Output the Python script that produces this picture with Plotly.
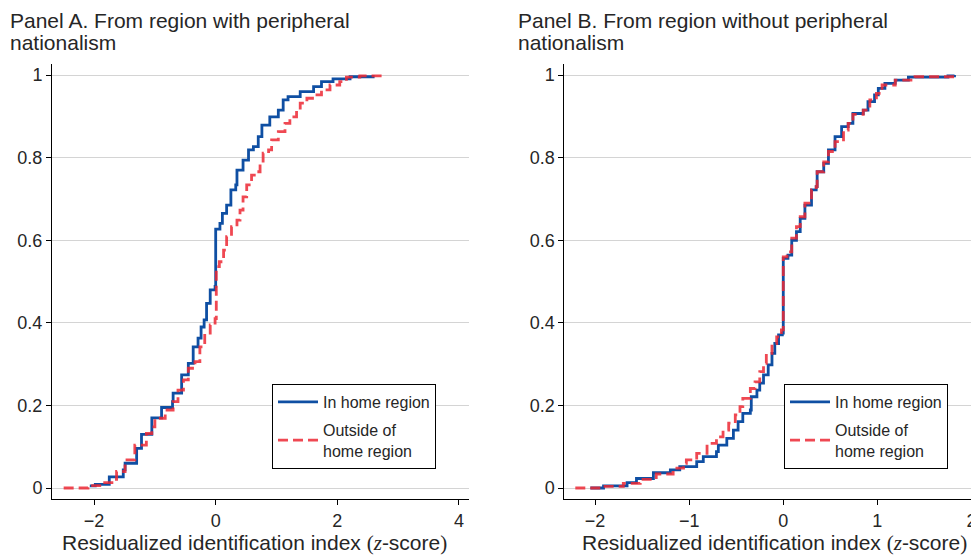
import plotly.graph_objects as go

# ---------------- data ----------------
# Panel A: from region with peripheral nationalism
a_home_x = [-2.07, -1.98, -1.75, -1.52, -1.49, -1.30, -1.22, -1.05, -0.89, -0.71, -0.70,
            -0.56, -0.45, -0.37, -0.29, -0.24, -0.19, -0.15, -0.09, -0.01, 0.00, 0.07,
            0.11, 0.18, 0.25, 0.33, 0.35, 0.45, 0.54, 0.62, 0.70, 0.76, 0.89, 1.03,
            1.11, 1.19, 1.39, 1.61, 1.74, 1.93, 2.21, 2.59]
a_home_y = [0.005, 0.009, 0.027, 0.044, 0.060, 0.096, 0.130, 0.170, 0.195, 0.209, 0.230,
            0.274, 0.302, 0.342, 0.363, 0.390, 0.407, 0.447, 0.480, 0.488, 0.627, 0.641,
            0.665, 0.685, 0.722, 0.734, 0.770, 0.794, 0.819, 0.827, 0.851, 0.879, 0.899, 0.915,
            0.940, 0.948, 0.960, 0.972, 0.984, 0.991, 0.996, 1.000]

a_out_x = [-2.50, -2.10, -1.88, -1.68, -1.63, -1.49, -1.33, -1.14, -1.05, -1.00, -0.83,
           -0.70, -0.62, -0.53, -0.45, -0.34, -0.26, -0.18, -0.09, -0.01, 0.01, 0.06,
           0.13, 0.18, 0.26, 0.35, 0.40, 0.45, 0.51, 0.59, 0.67, 0.73, 0.78, 0.87,
           0.92, 1.03, 1.14, 1.22, 1.33, 1.39, 1.50, 1.63, 1.74, 1.88, 2.04, 2.15,
           2.37, 2.78]
a_out_y = [0.000, 0.006, 0.013, 0.021, 0.040, 0.068, 0.104, 0.132, 0.148, 0.169, 0.189,
           0.209, 0.237, 0.262, 0.290, 0.306, 0.342, 0.375, 0.395, 0.410, 0.536, 0.548,
           0.576, 0.609, 0.633, 0.649, 0.673, 0.705, 0.734, 0.758, 0.766, 0.786, 0.811, 0.819,
           0.843, 0.863, 0.883, 0.899, 0.915, 0.932, 0.944, 0.952, 0.964, 0.976, 0.984, 0.995,
           0.998, 1.000]

# Panel B: from region without peripheral nationalism
b_home_x = [-2.05, -1.91, -1.66, -1.56, -1.38, -1.20, -1.10, -0.92, -0.85, -0.71, -0.69,
            -0.60, -0.53, -0.48, -0.43, -0.35, -0.34, -0.28, -0.25, -0.21, -0.16, -0.12,
            -0.09, -0.05, -0.01, 0.00, 0.05, 0.09, 0.14, 0.18, 0.23, 0.30, 0.35, 0.36,
            0.43, 0.48, 0.55, 0.62, 0.69, 0.74, 0.85, 0.90, 0.97, 1.01, 1.08, 1.19,
            1.33, 1.75, 1.82]
b_home_y = [0.000, 0.005, 0.013, 0.023, 0.037, 0.044, 0.052, 0.064, 0.076, 0.088, 0.104,
            0.120, 0.140, 0.161, 0.181, 0.189, 0.221, 0.237, 0.254, 0.274, 0.298, 0.326,
            0.350, 0.371, 0.375, 0.556, 0.564, 0.600, 0.621, 0.653, 0.685, 0.722, 0.730, 0.766,
            0.786, 0.819, 0.851, 0.875, 0.883, 0.907, 0.915, 0.936, 0.952, 0.968, 0.980, 0.988,
            0.995, 0.998, 1.000]

b_out_x = [-2.21, -1.91, -1.70, -1.52, -1.35, -1.17, -1.06, -1.03, -0.92, -0.81, -0.71,
           -0.64, -0.58, -0.51, -0.46, -0.43, -0.35, -0.30, -0.25, -0.21, -0.18, -0.12,
           -0.07, -0.02, 0.00, 0.04, 0.09, 0.14, 0.18, 0.23, 0.30, 0.35, 0.36, 0.43,
           0.48, 0.55, 0.64, 0.69, 0.74, 0.85, 0.92, 0.99, 1.05, 1.19, 1.40, 1.82]
b_out_y = [0.000, 0.004, 0.011, 0.021, 0.034, 0.048, 0.060, 0.068, 0.084, 0.108, 0.124,
           0.140, 0.157, 0.177, 0.197, 0.217, 0.241, 0.257, 0.282, 0.302, 0.326, 0.350,
           0.366, 0.383, 0.560, 0.572, 0.605, 0.633, 0.657, 0.690, 0.722, 0.730, 0.766, 0.790,
           0.815, 0.839, 0.867, 0.883, 0.905, 0.915, 0.940, 0.956, 0.976, 0.988, 0.996, 1.000]

series_names = ["In home region", "Outside of<br>home region"]
panel_titles = [["Panel A. From region with peripheral", "nationalism"],
                ["Panel B. From region without peripheral", "nationalism"]]
a_xticks = [-2, 0, 2, 4]
b_xticks = [-2, -1, 0, 1, 2]
y_ticks = [0, 0.2, 0.4, 0.6, 0.8, 1]
y_ticklabels = ["0", "0.2", "0.4", "0.6", "0.8", "1"]

# ---------------- styling ----------------
BLUE = "#0f4fa3"
RED = "rgba(236,40,52,0.85)"
FONT = "Liberation Sans, Arial, sans-serif"
TXT = "#262626"

# the page body has an 8px margin; size the figure so it fills the 979x555 window
OFF = 8
W, H = 979 - OFF, 555 - OFF

def X(px):  # window pixel -> paper x
    return (px - OFF) / W

def Y(py):  # window pixel (from top) -> paper y
    return (555 - py) / H

fig = go.Figure()

def add_pair(hx, hy, ox, oy, xa, ya, leg):
    fig.add_trace(go.Scatter(x=hx, y=hy, mode="lines", line=dict(color=BLUE, width=2.8, shape="hv"),
                             name=series_names[0], xaxis=xa, yaxis=ya, legend=leg,
                             legendgroup=leg + "a"))
    fig.add_trace(go.Scatter(x=ox, y=oy, mode="lines",
                             line=dict(color=RED, width=2.8, shape="hv", dash="10px,5px"),
                             name=series_names[1], xaxis=xa, yaxis=ya, legend=leg,
                             legendgroup=leg + "b"))

add_pair(a_home_x, a_home_y, a_out_x, a_out_y, "x", "y", "legend")
add_pair(b_home_x, b_home_y, b_out_x, b_out_y, "x2", "y2", "legend2")

yrange = [-0.0266, 1.0269]

axis_common = dict(showline=True, linecolor="black", linewidth=1, ticks="outside", ticklen=5,
                   tickcolor="black", zeroline=False, automargin=False, ticklabelstandoff=0,
                   tickfont=dict(family=FONT, size=18, color=TXT))

xtitle = ("Residualized identification index "
          "<span style='font-family:Liberation Serif'>(<i>z</i></span>-score"
          "<span style='font-family:Liberation Serif'>)</span>")

legend_common = dict(xanchor="left", yanchor="top", bordercolor="black", borderwidth=1,
                     bgcolor="white", font=dict(family=FONT, size=16, color=TXT),
                     tracegroupgap=4, itemwidth=40)

fig.update_layout(
    width=W, height=H, margin=dict(l=0, r=0, t=0, b=0),
    plot_bgcolor="white", paper_bgcolor="white",
    font=dict(family=FONT, color=TXT),
    xaxis=dict(domain=[X(52), X(469)], range=[-2.692, 4.166], tickvals=a_xticks,
               showgrid=False, anchor="y", **axis_common),
    yaxis=dict(domain=[Y(499), Y(64)], range=yrange, tickvals=y_ticks, ticktext=y_ticklabels,
               showgrid=True, gridcolor="#d4d4d4", gridwidth=1, anchor="x", **axis_common),
    xaxis2=dict(domain=[X(564.3), 1.0], range=[-2.327, 2.080], tickvals=b_xticks,
                showgrid=False, anchor="y2", **axis_common),
    yaxis2=dict(domain=[Y(499), Y(64)], range=yrange, tickvals=y_ticks, ticktext=y_ticklabels,
                showgrid=True, gridcolor="#d4d4d4", gridwidth=1, anchor="x2", **axis_common),
    legend=dict(x=X(272), y=Y(384), **legend_common),
    legend2=dict(x=X(784), y=Y(384), **legend_common),
)

# panel titles
for px, lines in zip([8, 516], panel_titles):
    for i, line in enumerate(lines):
        fig.add_annotation(text=line, xref="paper", yref="paper", x=X(px), y=Y(7 + 22 * i),
                           xanchor="left", yanchor="top", showarrow=False,
                           font=dict(family=FONT, size=21, color=TXT))

# x-axis titles (placed under each panel)
for cx in [254, 774]:
    fig.add_annotation(text=xtitle, xref="paper", yref="paper", x=X(cx), y=Y(543),
                       xanchor="center", yanchor="middle", showarrow=False,
                       font=dict(family=FONT, size=21, color=TXT))

fig.write_html("out.html")
